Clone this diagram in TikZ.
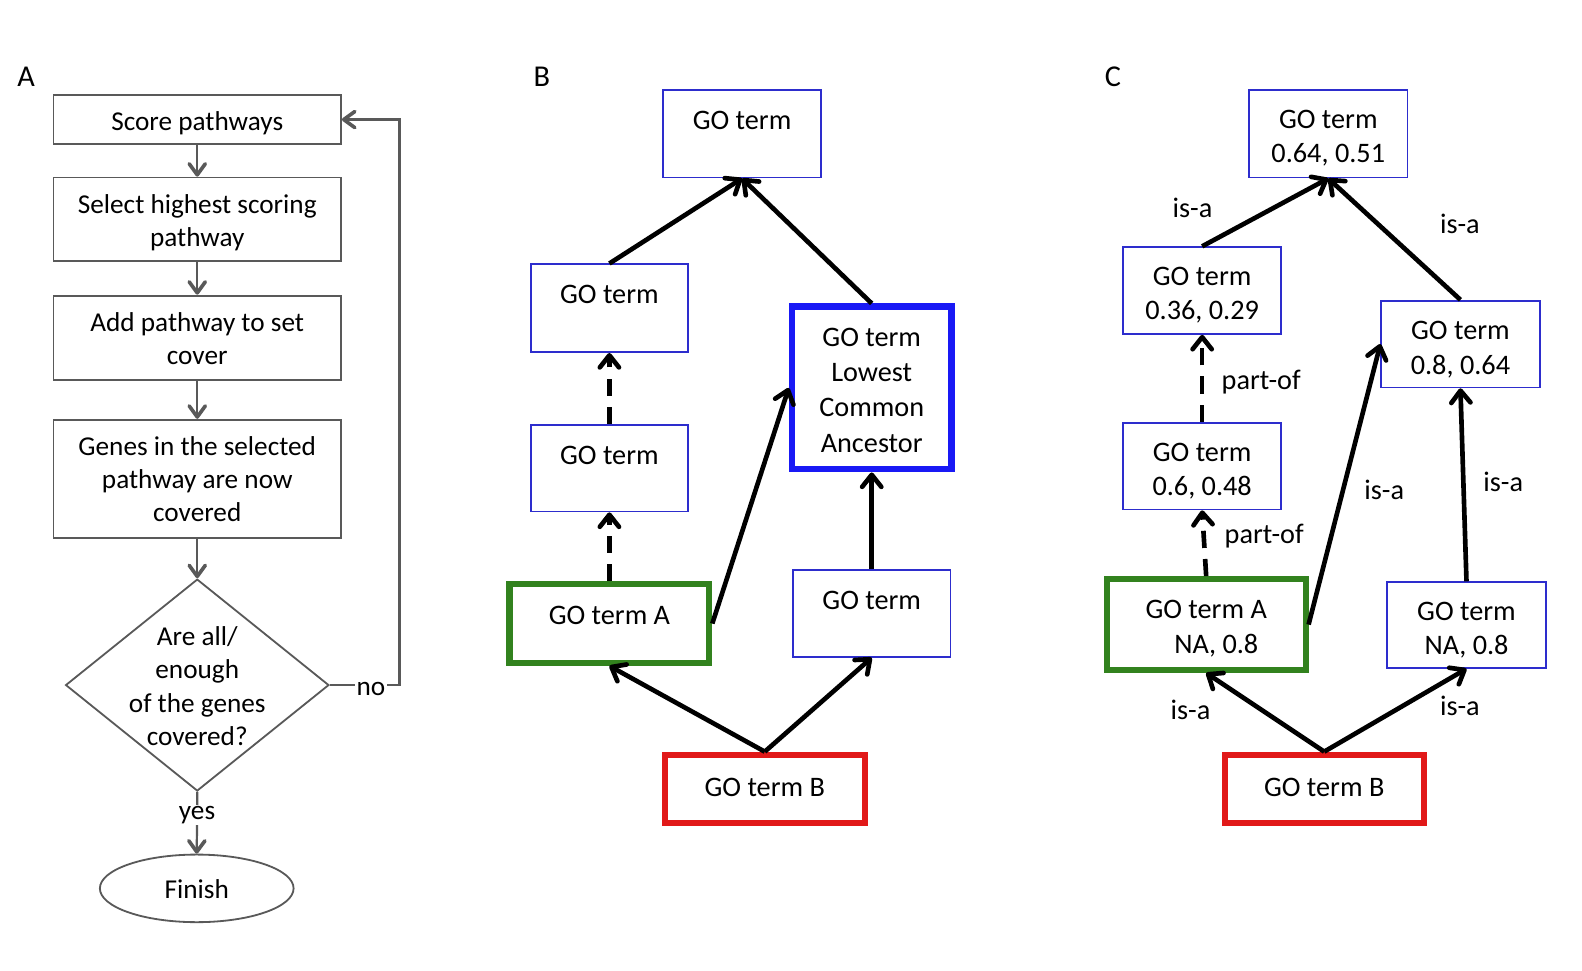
\documentclass[tikz,border=0pt]{standalone}
\usepackage{fontspec}
\setmainfont{Carlito}
\usetikzlibrary{arrows.meta,shapes.geometric}
\definecolor{agray}{RGB}{89,89,89}
\definecolor{tblue}{RGB}{45,45,205}
\definecolor{lcablue}{RGB}{25,25,245}
\definecolor{ggreen}{RGB}{50,130,30}
\definecolor{rred}{RGB}{225,25,25}
\newcommand{\afont}{\fontsize{27pt}{33pt}\selectfont}
\newcommand{\bfnt}{\fontsize{28pt}{34pt}\selectfont}
\newcommand{\tx}[2]{\raisebox{#1}[\height][\depth]{\begin{tabular}{@{}c@{}}#2\end{tabular}}}
\begin{document}
\begin{tikzpicture}[x=1pt,y=-1pt,
  abox/.style={draw=agray, line width=1.8pt, rectangle, inner sep=0pt, align=center, font=\afont},
  aarr/.style={draw=agray, line width=2.2pt, -{Straight Barb[length=11pt,width=16pt,line width=3.6pt,round]}},
  tbox/.style={draw=tblue, line width=1.7pt, rectangle, inner sep=0pt, align=center, font=\bfnt},
  gbox/.style={draw=ggreen, line width=6pt, rectangle, inner sep=0pt, align=center, font=\bfnt},
  rbox/.style={draw=rred, line width=6pt, rectangle, inner sep=0pt, align=center, font=\bfnt},
  lbox/.style={draw=lcablue, line width=6.5pt, rectangle, inner sep=0pt, align=center, font=\fontsize{28pt}{35pt}\selectfont},
  barr/.style={line width=4.6pt, -{Straight Barb[length=12pt,width=19pt,round]}},
  darr/.style={barr, dash pattern=on 17pt off 11pt},
  lbl/.style={font=\bfnt, inner sep=0pt},
  plbl/.style={font=\fontsize{30pt}{36pt}\selectfont, inner sep=0pt}
]
\useasboundingbox (0,0) rectangle (1568,962);

% ---------- Panel A ----------
\node[plbl] (pa) at (26,76) {A};
\node[abox, minimum width=285pt, minimum height=49pt] (a1) at (195.5,118.5) {\tx{-4pt}{Score pathways}};
\node[abox, minimum width=285pt, minimum height=83pt] (a2) at (195.5,217.5) {\tx{-4pt}{Select highest scoring\\pathway}};
\node[abox, minimum width=285pt, minimum height=84pt] (a3) at (195.5,335) {\tx{-3pt}{Add pathway to set\\cover}};
\node[abox, minimum width=285pt, minimum height=117pt] (a4) at (195.5,474.5) {\tx{-3pt}{Genes in the selected\\pathway are now\\covered}};
\node[draw=agray, line width=1.8pt, diamond, minimum width=261pt, minimum height=210pt, inner sep=0pt] (a5) at (195.5,679) {};
\node[font=\afont, align=center, inner sep=0pt] (a5t) at (195.5,680) {Are all/\\enough\\of the genes\\covered?};
\node[draw=agray, line width=1.8pt, ellipse, minimum width=192pt, minimum height=67pt, inner sep=0pt, font=\afont] (a6) at (195,880.5) {\raisebox{-1pt}[\height][\depth]{Finish}};
\coordinate (fb) at (396,679);

\draw[aarr] (a1.south) -- (a2.north);
\draw[aarr] (a2.south) -- (a3.north);
\draw[aarr] (a3.south) -- (a4.north);
\draw[aarr] (a4.south) -- (a5.north);
\draw[aarr] (a5.south) -- node[pos=0.37, fill=white, inner sep=1pt, font=\afont] (yes) {yes} (a6.north);
\draw[aarr] (a5.east) -- node[pos=0.59, yshift=-4pt, fill=white, inner sep=1.5pt, font=\afont] (no) {no} (fb) |- (a1.east);

% ---------- Panel B ----------
\node[plbl] (pb) at (537,76) {B};
\node[tbox, minimum width=157pt, minimum height=87pt] (bt) at (735.5,132.5) {\tx{-6pt}{GO term\\ \mbox{}}};
\node[tbox, minimum width=156pt, minimum height=87pt] (bl1) at (604,305.5) {\tx{-6pt}{GO term\\ \mbox{}}};
\node[tbox, minimum width=156pt, minimum height=86pt] (bl2) at (604,464) {\tx{-7pt}{GO term\\ \mbox{}}};
\node[gbox, minimum width=198pt, minimum height=78pt] (ba) at (604,618) {\raisebox{8pt}[\height][\depth]{GO term A}};
\node[lbox, minimum width=158pt, minimum height=161pt] (blca) at (864,384.5) {\tx{-4pt}{GO term\\Lowest\\Common\\Ancestor}};
\node[tbox, minimum width=156pt, minimum height=86pt] (br) at (864,608) {\tx{-6pt}{GO term\\ \mbox{}}};
\node[rbox, minimum width=198pt, minimum height=68pt] (bb) at (758,782) {\raisebox{2pt}[\height][\depth]{GO term B}};

\draw[barr] (bl1.north) -- (bt.south);
\draw[barr] (blca.north) -- (bt.south);
\draw[darr] (bl2.north) -- (bl1.south);
\draw[darr] (ba.north) -- (bl2.south);
\draw[barr] (ba.east) -- (blca.west);
\draw[barr] (bb.north) -- (ba.south);
\draw[barr] (bb.north) -- (br.south);
\draw[barr] (br.north) -- (blca.south);

% ---------- Panel C ----------
\node[plbl] (pc) at (1103,76) {C};
\node[tbox, minimum width=157pt, minimum height=87pt] (ct) at (1316.5,132.5) {\tx{-5pt}{GO term\\0.64, 0.51}};
\node[tbox, minimum width=157pt, minimum height=86pt] (cl1) at (1191.5,288) {\tx{-5pt}{GO term\\0.36, 0.29}};
\node[tbox, minimum width=157pt, minimum height=86pt] (cl2) at (1191.5,462) {\tx{-5.5pt}{GO term\\0.6, 0.48}};
\node[gbox, minimum width=197pt, minimum height=90pt] (ca) at (1195.5,619) {\tx{-4.5pt}{GO term A\\\hspace*{20pt}NA, 0.8}};
\node[tbox, minimum width=157pt, minimum height=86pt] (cr1) at (1447.5,341) {\tx{-6pt}{GO term\\0.8, 0.64}};
\node[tbox, minimum width=157pt, minimum height=85pt] (cr2) at (1453.5,619.5) {\tx{-5.5pt}{GO term\\NA, 0.8}};
\node[rbox, minimum width=197pt, minimum height=68pt] (cb) at (1312.5,782) {\raisebox{2pt}[\height][\depth]{GO term B}};

\draw[barr] (cl1.north) -- (ct.south);
\draw[barr] (cr1.north) -- (ct.south);
\draw[darr] (cl2.north) -- (cl1.south);
\draw[darr] (ca.north) -- (cl2.south);
\draw[barr] (ca.east) -- (cr1.west);
\draw[barr] (cr2.north) -- (cr1.south);
\draw[barr] (cb.north) -- (ca.south);
\draw[barr] (cb.north) -- (cr2.south);

\node[lbl] (l1) at (1182,206) {is-a};
\node[lbl] (l2) at (1447,222) {is-a};
\node[lbl] (l3) at (1250,379) {part-of};
\node[lbl] (l4) at (1253,531) {part-of};
\node[lbl] (l5) at (1372,486) {is-a};
\node[lbl] (l6) at (1490,478) {is-a};
\node[lbl] (l7) at (1180,704) {is-a};
\node[lbl] (l8) at (1447,700) {is-a};
\end{tikzpicture}
\end{document}
